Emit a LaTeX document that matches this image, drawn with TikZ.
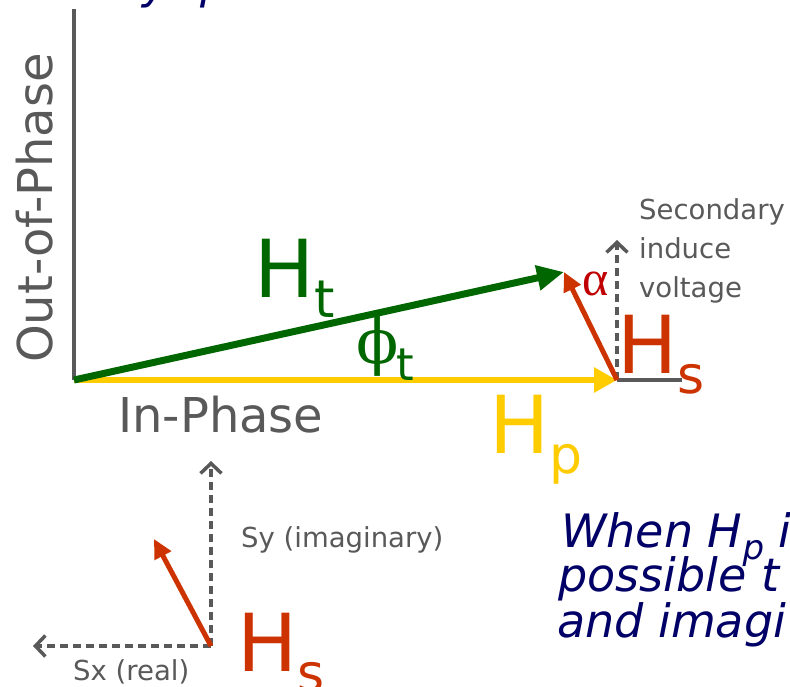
\documentclass[tikz,border=0pt]{standalone}
\usepackage{graphicx}
\usepackage{fontspec}
\setmainfont{DejaVu Sans}
\newfontfamily\greekserif{DejaVu Serif}
\newfontfamily\timesgreek{Liberation Serif}
\usetikzlibrary{arrows.meta}
\definecolor{axisgray}{HTML}{595959}
\definecolor{htgreen}{HTML}{006600}
\definecolor{hpyellow}{HTML}{FFCC00}
\definecolor{hsred}{HTML}{CC3300}
\definecolor{alphared}{HTML}{C00000}
\definecolor{notenavy}{HTML}{000066}
\newcommand{\fsz}[1]{\fontsize{#1}{#1}\selectfont}
\newcommand{\hvec}[1]{H\raisebox{-20pt}{\fsz{52}#1}}

\begin{document}
\begin{tikzpicture}[x=1pt,y=-1pt,
  lbl/.style={inner sep=0pt,anchor=base west},
  axisline/.style={axisgray,line width=3.5pt},
  htarrow/.style={htgreen,line width=7pt,-{Triangle[length=27pt,width=24pt]}},
  hparrow/.style={hpyellow,line width=6pt,-{Triangle[length=23pt,width=24pt]}},
  hsarrow/.style={hsred,line width=5pt,-{Triangle[length=19pt,width=18pt]}},
  comparrow/.style={axisgray,line width=3.5pt,dash pattern=on 8pt off 5pt,-{Straight Barb[length=10pt,width=21pt]}}]
\useasboundingbox (0,0) rectangle (790,686);
\clip (0,0) rectangle (790,686);
\fill[white] (0,0) rectangle (790,686);
% phasor diagram
\coordinate (O) at (74,380);
\coordinate (Otop) at (74,9);
\coordinate (P) at (617,380);
\coordinate (Pend) at (682,380);
\coordinate (T) at (564,272);
\coordinate (Sv) at (617,240);
\draw[axisline] (O) -- (Otop);
\draw[axisline] (P) -- (Pend);
\draw[hparrow] (O) -- (P);
\draw[htarrow] (O) -- (T);
\draw[comparrow] (P) -- (Sv);
\draw[hsarrow] (P) -- (T);
\node[lbl,rotate=90,text=axisgray,font=\fsz{48}] (oop) at (52,363) {Out-of-Phase};
\node[lbl,text=axisgray,font=\fsz{48}] (inp) at (118,432) {In-Phase};
\node[lbl,text=htgreen,font=\fsz{80}] (ht) at (254,297) {\hvec{t}};
\node[lbl,text=hpyellow,font=\fsz{80}] (hp) at (489,453) {\hvec{p}};
\node[lbl,text=hsred,font=\fsz{80}] (hs) at (617,373) {\hvec{s}};
\node[inner sep=0pt,anchor=base,text=htgreen,font=\fsz{62}\greekserif] (phi) at (378,363) {ϕ};
\node[lbl,text=htgreen,font=\fsz{45}] (phit) at (396,380) {t};
\node[lbl,text=alphared,font=\fsz{50}\timesgreek] (alpha) at (582,295) {α};
\foreach \ln/\yb in {Secondary/219,induce/258,voltage/297}
  \node[lbl,text=axisgray,font=\fsz{27.5}] (sec\ln) at (639,\yb) {\ln};
% components of Hs
\coordinate (B) at (211,646);
\coordinate (By) at (211,461);
\coordinate (Bx) at (33,646);
\coordinate (Br) at (154,539);
\draw[comparrow] (B) -- (By);
\draw[comparrow] (B) -- (Bx);
\draw[hsarrow] (B) -- (Br);
\node[lbl,text=axisgray,font=\fsz{27.5}] (sy) at (241,547) {Sy (imaginary)};
\node[lbl,text=axisgray,font=\fsz{27.5}] (sx) at (73,680) {Sx (real)};
\node[lbl,text=hsred,font=\fsz{80}] (hsb) at (237,671) {\hvec{s}};
% note text, cut at the right edge
\node[lbl,text=notenavy,font=\fsz{46}\itshape] (note1) at (561,547) {When H\raisebox{-12pt}{\fsz{34}p} i};
\node[lbl,text=notenavy,font=\fsz{46}\itshape] (note2) at (558,591) {possible t};
\node[lbl,text=notenavy,font=\fsz{46}\itshape] (note3) at (557,637) {and imagi};
\node[lbl,text=notenavy,font=\fsz{46}\itshape] (title) at (142,-2) {y\hspace{31pt}p};
\end{tikzpicture}
\end{document}
